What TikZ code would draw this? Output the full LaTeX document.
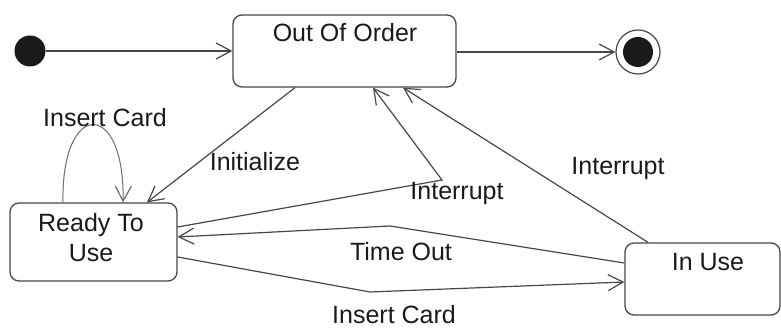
\documentclass[tikz,border=0pt]{standalone}
\usepackage{fontspec}
\setmainfont{Liberation Sans}
\usetikzlibrary{arrows.meta,calc}
\definecolor{wire}{HTML}{474747}
\definecolor{ink}{HTML}{1A1A1A}
\begin{document}
\begin{tikzpicture}[x=1pt,y=-1pt,
  every node/.style={font=\fontsize{25}{30}\selectfont, text=ink},
  statebox/.style={draw=wire, line width=1.3pt, rounded corners=9pt, inner sep=0pt},
  caption/.style={inner sep=0pt, align=center},
  flow/.style={draw=wire, line width=1.2pt, -{Straight Barb[length=15pt,width=16pt,line width=1.2pt]}},
  looparc/.style={flow, draw=wire!80, line width=1pt}]
  \useasboundingbox (0,0) rectangle (781,328);

  % states
  \node[statebox, minimum width=223pt, minimum height=72pt] (ooo) at (344.5,51) {};
  \node[caption] (oooname) at (345,33) {Out Of Order};
  \node[statebox, minimum width=167pt, minimum height=78pt] (ready) at (93.5,242) {};
  \node[caption] (readyname) at (91,238) {Ready To\\Use};
  \node[statebox, minimum width=155pt, minimum height=72pt] (inuse) at (702.5,279) {};
  \node[caption] (inusename) at (708,262) {In Use};

  % pseudo states
  \node[circle, fill=ink, minimum size=31pt, inner sep=0pt] (start) at (30,51) {};
  \node[circle, draw=wire, line width=1.2pt, minimum size=44pt, inner sep=0pt] (final) at (638,52) {};
  \node[circle, fill=ink, minimum size=30pt, inner sep=0pt] (finaldot) at (638,52) {};

  % bend points
  \coordinate (intbend) at (442,180);
  \coordinate (tobend) at (390,226);
  \coordinate (icbend) at (370,292);

  % transitions
  \draw[flow] (start) -- (ooo.west |- start);
  \draw[flow] (ooo.east |- final) -- (final);
  \draw[flow] (ooo.south -| 295,0) -- (ready.north -| 147,0);
  \draw[flow] (ready.east |- 0,227) -- (intbend) -- (ooo.south -| 373,0);
  \draw[flow] (inuse.north -| 648,0) -- (ooo.south -| 403,0);
  \draw[flow] (inuse.west |- 0,263) -- (tobend) -- (ready.east |- 0,237);
  \draw[flow] (ready.east |- 0,257) -- (icbend) -- (inuse.west |- 0,282);
  \draw[looparc] (ready.north -| 63,0) .. controls (61,99) and (125,99) .. (ready.north -| 123,0);

  % transition labels
  \node[caption] (lblloop) at (105,118) {Insert Card};
  \node[caption] (lblinit) at (255,162) {Initialize};
  \node[caption] (lblint1) at (457,193) {Interrupt};
  \node[caption] (lblint2) at (618,168) {Interrupt};
  \node[caption] (lbltime) at (401,252) {Time Out};
  \node[caption] (lblcard) at (394,315) {Insert Card};
\end{tikzpicture}
\end{document}
